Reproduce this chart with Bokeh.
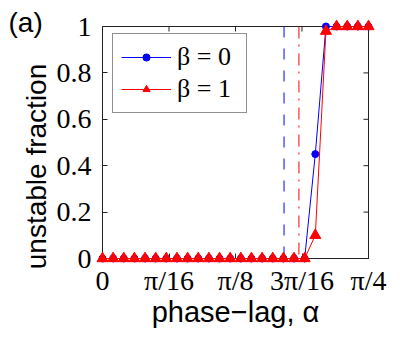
import math
from bokeh.plotting import figure
from bokeh.models import (Range1d, FixedTicker, LinearAxis, Legend, LegendItem,
                          Span)
from bokeh.core.properties import value
from bokeh.embed import file_html
from bokeh.resources import INLINE

# ---- data ----
alpha_over_pi = [0.00, 0.01, 0.02, 0.03, 0.04, 0.05, 0.06, 0.07, 0.08, 0.09,
                 0.10, 0.11, 0.12, 0.13, 0.14, 0.15, 0.16, 0.17, 0.18, 0.19,
                 0.20, 0.21, 0.22, 0.23, 0.24, 0.25]
frac_beta0 = [0, 0, 0, 0, 0, 0, 0, 0, 0, 0,
              0, 0, 0, 0, 0, 0, 0, 0, 0, 0,
              0.45, 1.0, 1.0, 1.0, 1.0, 1.0]
frac_beta1 = [0, 0, 0, 0, 0, 0, 0, 0, 0, 0,
              0, 0, 0, 0, 0, 0, 0, 0, 0, 0,
              0.10, 0.98, 1.0, 1.0, 1.0, 1.0]
threshold_beta0 = 0.536
threshold_beta1 = 0.580
xtick_over_pi = [0, 1/16, 1/8, 3/16, 1/4]
xtick_labels = ["0", "π/16", "π/8", "3π/16", "π/4"]
ytick_values = [0, 0.2, 0.4, 0.6, 0.8, 1]
ytick_labels = ["0", "0.2", "0.4", "0.6", "0.8", "1"]

alpha = [a * math.pi for a in alpha_over_pi]
xticks = [t * math.pi for t in xtick_over_pi]
XMAX = math.pi / 4

SERIF = "Times New Roman, Liberation Serif, serif"
SANS = "Arial, Liberation Sans, sans-serif"
AX = "#222222"

p = figure(width=399, height=336, output_backend="svg", toolbar_location=None,
           x_range=Range1d(0, XMAX), y_range=Range1d(0, 1),
           min_border_left=102, min_border_right=31, min_border_top=26,
           min_border_bottom=78, x_axis_location=None, y_axis_location=None)
p.background_fill_color = "white"
p.border_fill_color = "white"
p.outline_line_color = AX
p.outline_line_width = 1
p.xgrid.visible = False
p.ygrid.visible = False


def style_axis(ax, ticks, labels):
    ax.ticker = FixedTicker(ticks=ticks)
    ax.major_label_overrides = {t: l for t, l in zip(ticks, labels)}
    ax.major_tick_in = 5
    ax.major_tick_out = 0
    ax.minor_tick_line_color = None
    ax.axis_line_color = AX
    ax.major_tick_line_color = AX
    ax.major_label_text_font = SERIF
    ax.major_label_text_color = "black"
    ax.major_label_text_font_size = "28px"


xb = LinearAxis()
style_axis(xb, xticks, xtick_labels)
xb.major_label_standoff = 6
xb.axis_label = "phase\u2212lag, α"
xb.axis_label_text_font = SANS
xb.axis_label_text_font_size = "29px"
xb.axis_label_text_font_style = "normal"
xb.axis_label_text_color = "black"
xb.axis_label_standoff = -3
p.add_layout(xb, "below")

yl = LinearAxis()
style_axis(yl, ytick_values, ytick_labels)
yl.major_label_standoff = 11
p.add_layout(yl, "left")

# inward ticks on the top and right edges (clipped to the frame)
p.scatter(xticks, [1] * len(xticks), marker="dash", angle=math.pi / 2, size=10,
          line_color=AX, line_width=1)
p.scatter([XMAX] * len(ytick_values), ytick_values, marker="dash", size=10,
          line_color=AX, line_width=1)

# threshold lines
p.add_layout(Span(location=threshold_beta0, dimension="height",
                  line_color="blue", line_width=1, line_dash="11 11"))
p.add_layout(Span(location=threshold_beta1, dimension="height",
                  line_color="red", line_width=1, line_dash="12 6 2 7"))

# series
l0 = p.line(alpha, frac_beta0, line_color="blue", line_width=1, level="overlay")
m0 = p.scatter(alpha, frac_beta0, marker="circle", size=7, fill_color="blue",
               line_color="blue", level="overlay")
l1 = p.line(alpha, frac_beta1, line_color="red", line_width=1, level="overlay")
m1 = p.scatter(alpha, frac_beta1, marker="triangle", size=11, fill_color="red",
               line_color="red", level="overlay")

legend = Legend(items=[LegendItem(label="β = 0", renderers=[l0, m0]),
                       LegendItem(label="β = 1", renderers=[l1, m1])],
                location=(10, 145), orientation="vertical")
legend.label_text_font = SERIF
legend.label_text_font_size = "26px"
legend.label_text_color = "black"
legend.glyph_width = 50
legend.glyph_height = 18
legend.label_height = 28
legend.label_width = 61
legend.label_standoff = 6
legend.spacing = 2
legend.padding = 8
legend.margin = 0
legend.border_line_color = AX
legend.border_line_width = 1
legend.background_fill_color = "white"
legend.background_fill_alpha = 1
p.add_layout(legend, "center")

# y-axis title and panel tag, drawn as unclipped text glyphs
p.text(x=[-0.1934], y=[0.3966], text=["unstable fraction"], angle=math.pi / 2,
       text_align="center", text_baseline="middle", level="overlay",
       text_font=value(SANS), text_font_size="28px", text_color="black")
p.text(x=[-0.2775], y=[1.086], text=["(a)"], text_align="left",
       text_baseline="top", level="overlay",
       text_font=value(SANS), text_font_size="28px", text_color="black")

open("out.html", "w").write(file_html(p, INLINE))
